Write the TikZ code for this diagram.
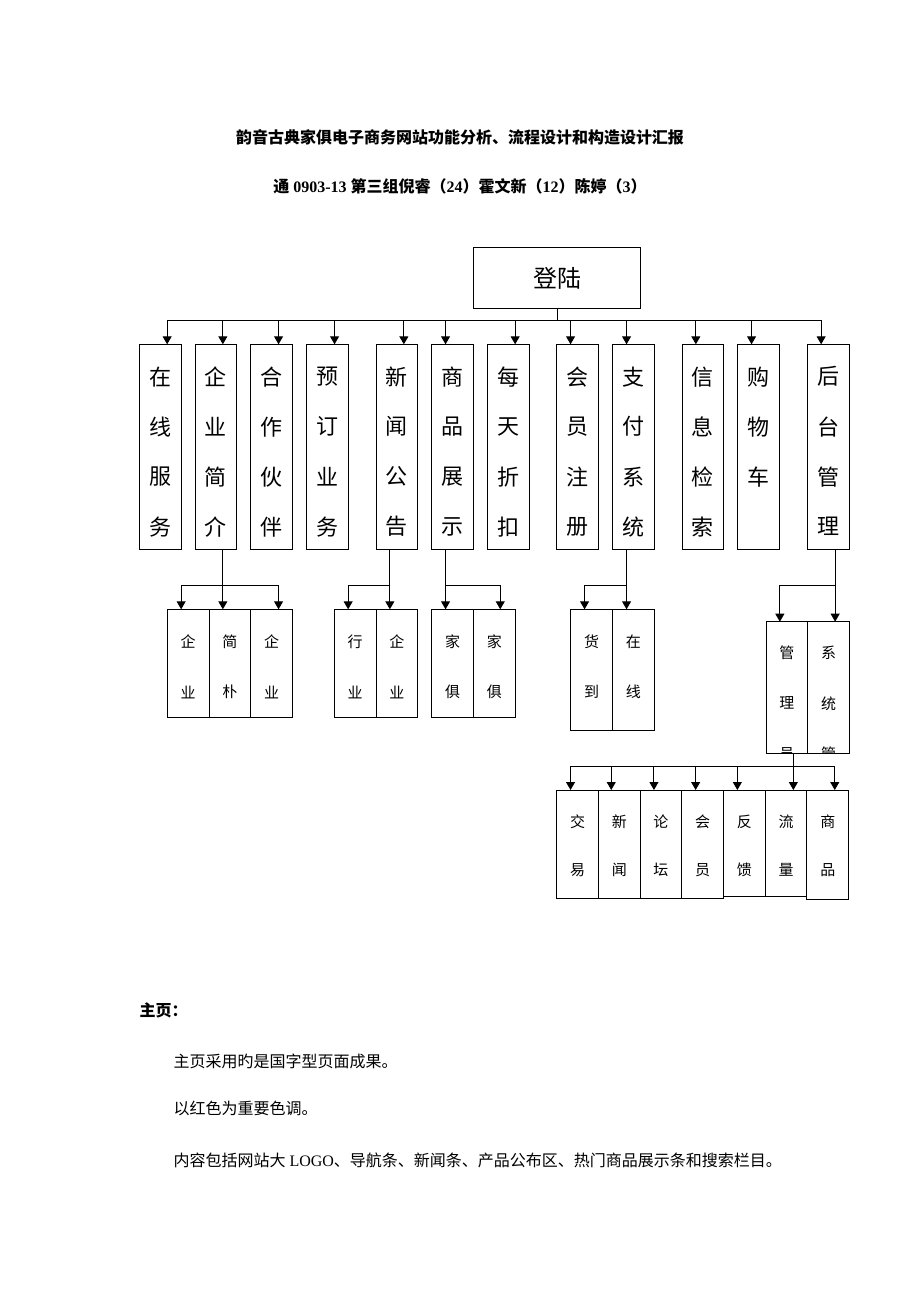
\documentclass[tikz,border=0pt]{standalone}
\usepackage{fontspec}
\setmainfont{Liberation Serif}
\newfontfamily\cjk{Noto Sans CJK SC}
\usetikzlibrary{arrows.meta,positioning,calc}

% stack characters down a box: box, style, first offset, step, chars
\newcommand\vchars[5]{\foreach \ch [count=\k from 0] in {#5}
  \node[#2] (#1-\k) at ([yshift={-(#3+#4*\k)*1pt}]#1.north) {\ch};}

\begin{document}
\begin{tikzpicture}[x=1pt, y=-1pt, line width=1pt,
  box/.style={draw, inner sep=0pt, outer sep=0pt, anchor=north west, minimum width=41.7pt},
  arr/.style={-{Triangle[length=8pt,width=9pt]}},
  bigch/.style={font=\cjk\fontsize{22}{22}\selectfont, inner sep=0pt},
  smallch/.style={font=\cjk\fontsize{15}{15}\selectfont, inner sep=0pt}]
\useasboundingbox (0,0) rectangle (920,1302);

\node[font=\cjk\bfseries\fontsize{16}{16}\selectfont] (title) at (460,137) {韵音古典家俱电子商务网站功能分析、流程设计和构造设计汇报};
\node[font=\bfseries\fontsize{16}{16}\selectfont] (team) at (460,186) {{\cjk 通} 0903-13 {\cjk 第三组倪睿（}24{\cjk ）霍文新（}12{\cjk ）陈婷（}3{\cjk ）}};

\node[draw, inner sep=0pt, anchor=north west, minimum width=167pt, minimum height=61pt,
  font=\cjk\fontsize{24}{24}\selectfont] (login) at (473.3,247.3) {登陆};

% first row
\node[box, minimum height=204.7pt] (zx) at (139.3,344.3) {}; \vchars{zx}{bigch}{32.4}{50}{在,线,服,务}
\node[box, minimum height=204.7pt] (qy) at (195,344.3) {};   \vchars{qy}{bigch}{32.4}{50}{企,业,简,介}
\node[box, minimum height=204.7pt] (hz) at (250.7,344.3) {}; \vchars{hz}{bigch}{32.4}{50}{合,作,伙,伴}
\node[box, minimum height=204.7pt] (yd) at (306.7,344.3) {}; \vchars{yd}{bigch}{32.4}{50}{预,订,业,务}
\node[box, minimum height=204.7pt] (xw) at (376,344.3) {};   \vchars{xw}{bigch}{32.4}{50}{新,闻,公,告}
\node[box, minimum height=204.7pt] (sp) at (431.7,344.3) {}; \vchars{sp}{bigch}{32.4}{50}{商,品,展,示}
\node[box, minimum height=204.7pt] (mt) at (487.3,344.3) {}; \vchars{mt}{bigch}{32.4}{50}{每,天,折,扣}
\node[box, minimum height=204.7pt] (hy) at (556.7,344.3) {}; \vchars{hy}{bigch}{32.4}{50}{会,员,注,册}
\node[box, minimum height=204.7pt] (zf) at (612.7,344.3) {}; \vchars{zf}{bigch}{32.4}{50}{支,付,系,统}
\node[box, minimum height=204.7pt] (xx) at (682,344.3) {};   \vchars{xx}{bigch}{32.4}{50}{信,息,检,索}
\node[box, minimum height=204.7pt] (gw) at (737.7,344.3) {}; \vchars{gw}{bigch}{32.4}{50}{购,物,车}
\node[box, minimum height=204.7pt] (ht) at (807.3,344.3) {}; \vchars{ht}{bigch}{32.4}{50}{后,台,管,理}

\draw (login.south) -- (login.south |- 0,320) coordinate (bus);
\draw ([xshift=7pt]zx.north |- bus) -- ([xshift=-7pt]ht.north |- bus);
\foreach \n/\d in {zx/7,qy/7,hz/7,yd/7,xw/7,sp/-7,mt/7,hy/-7,zf/-7,xx/-7,gw/-7,ht/-7}
  \draw[arr] ([xshift=\d pt]\n.north |- bus) -- ([xshift=\d pt]\n.north);

\coordinate (r2) at (0,585);
\coordinate (r3) at (0,766);

% second row
\node[box, minimum height=108.4pt] (q1) at (167.3,609.3) {}; \vchars{q1}{smallch}{32.4}{50.5}{企,业}
\node[box, minimum height=108.4pt] (q2) at (q1.north east) {}; \vchars{q2}{smallch}{32.4}{50.5}{简,朴}
\node[box, minimum height=108.4pt] (q3) at (q2.north east) {}; \vchars{q3}{smallch}{32.4}{50.5}{企,业}
\node[box, minimum height=108.4pt] (n1) at (334.3,609.3) {}; \vchars{n1}{smallch}{32.4}{50.5}{行,业}
\node[box, minimum height=108.4pt] (n2) at (n1.north east) {}; \vchars{n2}{smallch}{32.4}{50.5}{企,业}
\node[box, minimum height=108.4pt] (s1) at (431.7,609.3) {}; \vchars{s1}{smallch}{32.4}{50.5}{家,俱}
\node[box, minimum height=108.4pt] (s2) at (s1.north east) {}; \vchars{s2}{smallch}{32.4}{50.5}{家,俱}
\node[box, minimum height=120.7pt] (p1) at (570.7,609.3) {}; \vchars{p1}{smallch}{32.4}{50}{货,到}
\node[box, minimum height=120.7pt] (p2) at (p1.north east) {}; \vchars{p2}{smallch}{32.4}{50}{在,线}
\node[box, minimum height=131.6pt] (g1) at (766,621.7) {};
\node[box, minimum height=131.6pt] (g2) at (g1.north east) {};
\begin{scope}
  \clip (g1.north west) rectangle (g2.south east);
  \vchars{g1}{smallch}{31}{50.6}{管,理,员}
  \vchars{g2}{smallch}{31}{50.6}{系,统,管}
\end{scope}

\draw[arr] ([xshift=7pt]qy.south) -- ([xshift=7pt]qy.south |- q2.north);
\draw[arr] ([xshift=7pt]qy.south |- r2) -| ([xshift=-7pt]q1.north);
\draw[arr] ([xshift=7pt]qy.south |- r2) -| ([xshift=7pt]q3.north);
\draw[arr] ([xshift=-7pt]xw.south) -- ([xshift=-7pt]xw.south |- n2.north);
\draw[arr] ([xshift=-7pt]xw.south |- r2) -| ([xshift=-7pt]n1.north);
\draw[arr] ([xshift=-7pt]sp.south) -- ([xshift=-7pt]sp.south |- s1.north);
\draw[arr] ([xshift=-7pt]sp.south |- r2) -| ([xshift=6pt]s2.north);
\draw[arr] ([xshift=-7pt]zf.south) -- ([xshift=-7pt]zf.south |- p2.north);
\draw[arr] ([xshift=-7pt]zf.south |- r2) -| ([xshift=-7pt]p1.north);
\draw[arr] ([xshift=7pt]ht.south) -- ([xshift=7pt]ht.south |- g2.north);
\draw[arr] ([xshift=7pt]ht.south |- r2) -| ([xshift=-7pt]g1.north);

% third row
\node[box, minimum height=108.3pt] (b1) at (556.7,790) {};   \vchars{b1}{smallch}{31.7}{48.3}{交,易}
\node[box, minimum height=108pt] (b2) at (b1.north east) {}; \vchars{b2}{smallch}{31.7}{48.3}{新,闻}
\node[box, minimum height=108pt] (b3) at (b2.north east) {}; \vchars{b3}{smallch}{31.7}{48.3}{论,坛}
\node[box, minimum height=108pt] (b4) at (b3.north east) {}; \vchars{b4}{smallch}{31.7}{48.3}{会,员}
\node[box, minimum height=106pt] (b5) at (b4.north east) {}; \vchars{b5}{smallch}{31.7}{48.3}{反,馈}
\node[box, minimum height=106pt] (b6) at (b5.north east) {}; \vchars{b6}{smallch}{31.7}{48.3}{流,量}
\node[box, minimum height=109.3pt] (b7) at (b6.north east) {}; \vchars{b7}{smallch}{31.7}{48.3}{商,品}

\draw[arr] ([xshift=6.5pt]g1.south) -- ([xshift=6.5pt]g1.south |- b6.north);
\foreach \n/\d in {b1/-7,b2/-8,b3/-7,b4/-7,b5/-7,b7/7}
  \draw[arr] ([xshift=6.5pt]g1.south |- r3) -| ([xshift=\d pt]\n.north);

% text below
\node[anchor=west, inner sep=0pt, font=\cjk\bfseries\fontsize{16}{16}\selectfont] (home) at (139,1010) {主页：};
\node[anchor=west, inner sep=0pt, font=\cjk\fontsize{16}{16}\selectfont] (l1) at (173,1061) {主页采用旳是国字型页面成果。};
\node[anchor=west, inner sep=0pt, font=\cjk\fontsize{16}{16}\selectfont] (l2) at (173,1108) {以红色为重要色调。};
\node[anchor=west, inner sep=0pt, font=\fontsize{16}{16}\selectfont] (l3) at (173,1160) {{\cjk 内容包括网站大} LOGO{\cjk 、导航条、新闻条、产品公布区、热门商品展示条和搜索栏目。}};
\end{tikzpicture}
\end{document}
